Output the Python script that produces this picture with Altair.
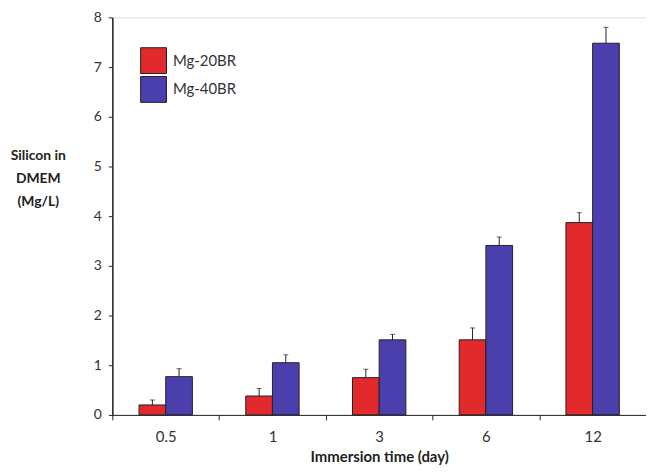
import altair as alt
import pandas as pd

days = ["0.5", "1", "3", "6", "12"]
series = ["Mg-20BR", "Mg-40BR"]
mg20 = [0.20, 0.38, 0.75, 1.51, 3.87]
mg20_err = [0.10, 0.15, 0.17, 0.24, 0.20]
mg40 = [0.77, 1.05, 1.51, 3.41, 7.48]
mg40_err = [0.16, 0.16, 0.11, 0.17, 0.32]
colors = ["#e2292b", "#4b3fae"]

rows = []
for i, d in enumerate(days):
    rows.append({"day": d, "series": series[0], "value": mg20[i], "top": mg20[i] + mg20_err[i]})
    rows.append({"day": d, "series": series[1], "value": mg40[i], "top": mg40[i] + mg40_err[i]})
df = pd.DataFrame(rows)

FONT = "Lato"

x_enc = alt.X("day:N", sort=days, scale=alt.Scale(paddingInner=0, paddingOuter=0),
              axis=alt.Axis(title="Immersion time (day)", labelAngle=0, tickBand="extent",
                            labelFontSize=15, labelFont=FONT, labelColor="#333",
                            labelPadding=10, tickSize=5, tickColor="#222", domainColor="#222",
                            titleFont=FONT, titleFontSize=15, titleFontWeight="bold",
                            titleColor="#222", titlePadding=5, grid=False))
xoff = alt.XOffset("series:N", sort=series, scale=alt.Scale(paddingInner=0, paddingOuter=1))

y_axis = alt.Axis(title=["Silicon in", "DMEM", "(Mg/L)"], titleAngle=0, titleX=-75, titleY=132,
                  titleAlign="center", titleBaseline="top", titleLineHeight=23,
                  titleFont=FONT, titleFontSize=14, titleFontWeight="bold", titleColor="#222",
                  values=list(range(0, 9)), labelFontSize=14, labelFont=FONT, labelColor="#333",
                  labelPadding=7, tickSize=4, tickColor="#222", domainColor="#222",
                  domainWidth=1.5, grid=False)

bars = alt.Chart(df).mark_bar(stroke="#222", strokeWidth=1).encode(
    x=x_enc,
    xOffset=xoff,
    y=alt.Y("value:Q", scale=alt.Scale(domain=[0, 8], nice=False), axis=y_axis),
    color=alt.Color("series:N", sort=series,
                    scale=alt.Scale(domain=series, range=colors),
                    legend=alt.Legend(title=None, orient="none", legendX=28, legendY=30,
                                      symbolType="square", symbolSize=676,
                                      symbolStrokeColor="#222", symbolStrokeWidth=1,
                                      symbolOpacity=1, rowPadding=-2,
                                      labelFont=FONT, labelFontSize=15, labelColor="#333",
                                      labelOffset=6)),
)

err = alt.Chart(df).mark_rule(color="#222", strokeWidth=1).encode(
    x=alt.X("day:N", sort=days),
    xOffset=xoff,
    y="value:Q",
    y2="top:Q",
)

caps = alt.Chart(df).mark_tick(color="#222", thickness=1, size=5, orient="horizontal").encode(
    x=alt.X("day:N", sort=days),
    xOffset=xoff,
    y="top:Q",
)

chart = alt.layer(bars, err, caps).properties(
    width=537, height=400,
    autosize=alt.AutoSizeParams(type="none"),
    padding={"left": 105, "top": 8, "right": 0, "bottom": 56},
).configure_view(stroke=None).configure(background="white")

chart.save("out.html", embed_options={"renderer": "svg", "actions": False})
